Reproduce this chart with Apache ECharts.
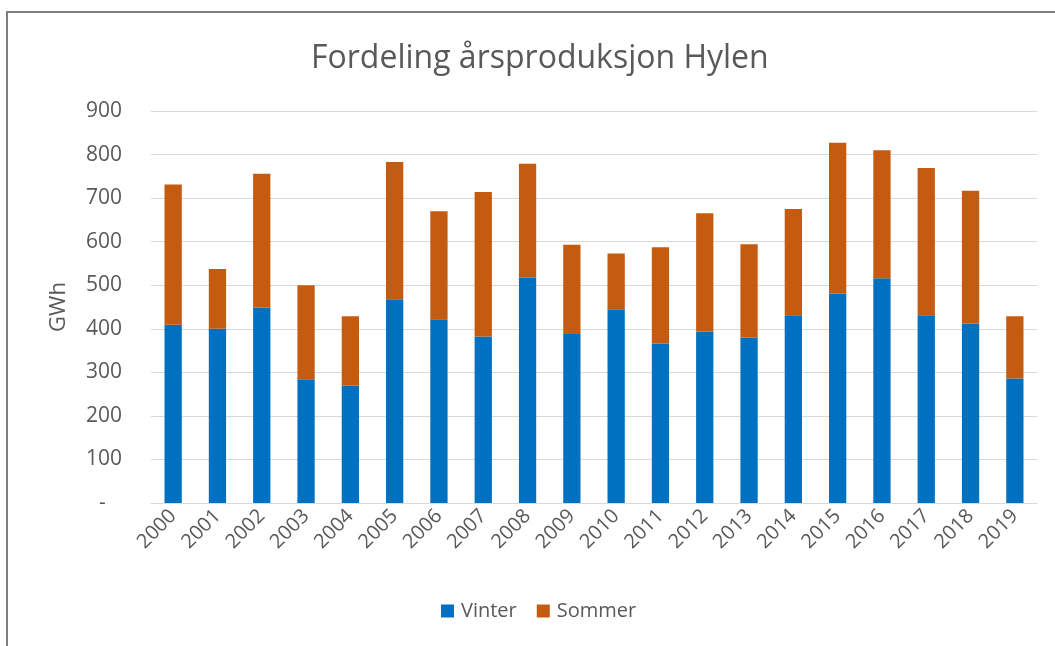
<!DOCTYPE html>
<html>
<head>
<meta charset="utf-8">
<script src="https://cdn.jsdelivr.net/npm/echarts@6/dist/echarts.min.js"></script>
<style>
html,body{margin:0;padding:0;background:#fff;}
#chart{width:1055px;height:646px;}
</style>
</head>
<body>
<div id="chart"></div>
<script>
const years = ['2000','2001','2002','2003','2004','2005','2006','2007','2008','2009','2010','2011','2012','2013','2014','2015','2016','2017','2018','2019'];
const vinter = [409, 400, 449, 284, 270, 468, 422, 382, 517, 388, 445, 366, 394, 380, 431, 481, 516, 431, 412, 286];
const sommer = [322, 137, 307, 216, 159, 315, 248, 332, 262, 205, 128, 221, 271, 214, 244, 346, 294, 338, 305, 143];
const seriesNames = ['Vinter', 'Sommer'];
const titleText = 'Fordeling årsproduksjon Hylen';
const yAxisName = 'GWh';

const FONT = 'Open Sans';
const TXT = '#595959';

const chart = echarts.init(document.getElementById('chart'), null, {renderer: 'canvas'});
chart.setOption({
  backgroundColor: '#fff',
  animation: false,
  title: {
    text: titleText,
    left: 306,
    top: 38,
    textStyle: {fontFamily: FONT, fontSize: 32, fontWeight: 'normal', color: TXT}
  },
  legend: {
    data: seriesNames,
    bottom: 20,
    left: 436,
    icon: 'rect',
    itemWidth: 13,
    itemHeight: 13,
    itemGap: 20,
    textStyle: {fontFamily: FONT, fontSize: 20, color: TXT, padding: [0, 0, 0, 2]}
  },
  grid: {left: 151, right: 18, top: 111, bottom: 143, containLabel: false},
  xAxis: {
    type: 'category',
    data: years,
    axisLine: {lineStyle: {color: '#D9D9D9', width: 1}},
    axisTick: {show: false},
    axisLabel: {rotate: 45, fontFamily: FONT, fontSize: 20, color: TXT, margin: 10, interval: 0}
  },
  yAxis: {
    type: 'value',
    min: 0, max: 900, interval: 100,
    name: yAxisName,
    nameLocation: 'middle',
    nameRotate: 90,
    nameGap: 81,
    nameTextStyle: {fontFamily: FONT, fontSize: 22, color: TXT},
    axisLine: {show: false},
    axisTick: {show: false},
    splitLine: {lineStyle: {color: '#D9D9D9', width: 1}},
    axisLabel: {
      fontFamily: FONT, fontSize: 21, color: TXT, margin: 29,
      formatter: v => v === 0 ? '-   ' : String(v)
    }
  },
  series: [
    {name: seriesNames[0], type: 'bar', stack: 'total', data: vinter, barWidth: '39%',
     itemStyle: {color: '#0070C0'}},
    {name: seriesNames[1], type: 'bar', stack: 'total', data: sommer, barWidth: '39%',
     itemStyle: {color: '#C55A11'}}
  ],
  graphic: [
    {type: 'polyline', silent: true, shape: {points: [[7, 700], [7, 12], [1060, 12]]},
     style: {stroke: '#7F7F7F', lineWidth: 2, fill: null}}
  ]
});
</script>
</body>
</html>
